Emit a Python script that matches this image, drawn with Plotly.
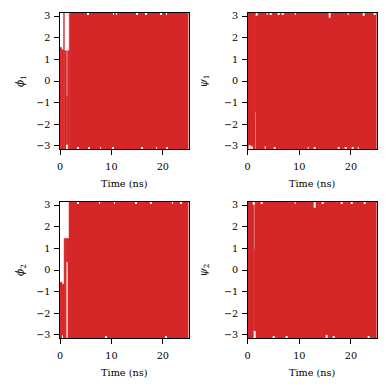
"""
Dihedral angle time series (phi/psi) for two residues, 2x2 grid
"""

import plotly.graph_objects as go
from plotly.subplots import make_subplots

RED = '#d62728'
FONT = 'DejaVu Serif'
PI = 3.1416

# Each panel: contiguous time segments (start, end in ns) with the
# min/max angle (rad) covered by the trajectory inside that segment.
phi1_start = [0.0, 0.3, 0.7, 0.85, 1.25, 1.45, 1.8]
phi1_end = [0.3, 0.7, 0.85, 1.25, 1.45, 1.8, 25.0]
phi1_lo = [-3.1416, -3.1416, -3.1416, -3.1416, -3.1416, -3.1416, -3.1416]
phi1_hi = [1.55, 1.45, 3.1416, 1.40, -0.70, 1.40, 3.1416]

psi1_start = [0.0, 1.45, 1.6]
psi1_end = [1.45, 1.6, 25.0]
psi1_lo = [-3.1416, -1.43, -3.1416]
psi1_hi = [3.1416, 3.1416, 3.1416]

phi2_start = [0.0, 0.4, 0.8, 1.2, 1.55, 1.75]
phi2_end = [0.4, 0.8, 1.2, 1.55, 1.75, 25.0]
phi2_lo = [-3.1416, -3.1416, -3.1416, 0.38, -3.1416, -3.1416]
phi2_hi = [-0.57, -0.66, 1.46, 1.46, 1.46, 3.1416]

psi2_start = [0.0, 1.2, 1.35]
psi2_end = [1.2, 1.35, 25.0]
psi2_lo = [-3.1416, -3.1416, -3.1416]
psi2_hi = [3.1416, 0.97, 3.1416]

# Sparse spots near +/-pi that the trajectory never visited (time, lo, hi)
phi1_gap_t = [5.5, 10.4, 11.0, 15.0, 16.7, 19.7, 20.7, 1.3, 3.5, 5.6, 7.9, 10.3, 16.0, 18.8, 20.8]
phi1_gap_lo = [3.07, 3.07, 3.07, 3.07, 3.07, 3.07, 3.07, -3.1416, -3.1416, -3.1416, -3.1416, -3.1416, -3.1416, -3.1416, -3.1416]
phi1_gap_hi = [3.1416, 3.1416, 3.1416, 3.1416, 3.1416, 3.1416, 3.1416, -2.95, -3.07, -3.07, -3.07, -3.07, -3.07, -3.07, -3.07]

psi1_gap_t = [1.7, 3.8, 4.5, 6.0, 6.8, 9.2, 15.9, 19.5, 22.5, 24.6, 0.4, 0.8, 3.4, 5.3, 11.7, 13.0, 17.6, 19.0, 20.3, 21.4]
psi1_gap_lo = [3.02, 3.07, 3.07, 3.07, 3.07, 3.07, 2.92, 3.07, 3.0, 3.07, -3.1416, -3.1416, -3.1416, -3.1416, -3.1416, -3.1416, -3.1416, -3.1416, -3.1416, -3.1416]
psi1_gap_hi = [3.1416, 3.1416, 3.1416, 3.1416, 3.1416, 3.1416, 3.1416, 3.1416, 3.1416, 3.1416, -2.97, -3.02, -3.02, -3.07, -3.07, -3.07, -3.07, -3.07, -3.07, -3.07]

phi2_gap_t = [3.5, 7.7, 10.6, 14.8, 17.7, 21.9, 23.5, 0.5, 9.0, 20.6]
phi2_gap_lo = [3.07, 3.07, 3.07, 3.07, 3.07, 3.07, 3.07, -3.1416, -3.1416, -3.1416]
phi2_gap_hi = [3.1416, 3.1416, 3.1416, 3.1416, 3.1416, 3.1416, 3.1416, -3.02, -3.07, -3.07]

psi2_gap_t = [1.1, 2.7, 9.2, 13.0, 14.6, 18.2, 20.1, 22.7, 1.3, 5.0, 7.5, 15.3, 16.6, 23.4]
psi2_gap_lo = [3.02, 3.07, 3.07, 2.88, 3.07, 3.07, 3.07, 3.07, -3.1416, -3.1416, -3.1416, -3.1416, -3.1416, -3.1416]
psi2_gap_hi = [3.1416, 3.1416, 3.1416, 3.1416, 3.1416, 3.1416, 3.1416, 3.1416, -2.82, -3.07, -3.07, -3.0, -3.07, -3.07]

panels = [
    (1, 1, '<i>ϕ</i><sub>1</sub>', phi1_start, phi1_end, phi1_lo, phi1_hi,
     phi1_gap_t, phi1_gap_lo, phi1_gap_hi),
    (1, 2, '<i>ψ</i><sub>1</sub>', psi1_start, psi1_end, psi1_lo, psi1_hi,
     psi1_gap_t, psi1_gap_lo, psi1_gap_hi),
    (2, 1, '<i>ϕ</i><sub>2</sub>', phi2_start, phi2_end, phi2_lo, phi2_hi,
     phi2_gap_t, phi2_gap_lo, phi2_gap_hi),
    (2, 2, '<i>ψ</i><sub>2</sub>', psi2_start, psi2_end, psi2_lo, psi2_hi,
     psi2_gap_t, psi2_gap_lo, psi2_gap_hi),
]

fig = make_subplots(rows=2, cols=2)

for row, col, label, t0, t1, lo, hi, gt, glo, ghi in panels:
    fig.add_trace(
        go.Bar(x=[(a + b) / 2 for a, b in zip(t0, t1)],
               width=[b - a for a, b in zip(t0, t1)],
               base=lo, y=[h - l for h, l in zip(hi, lo)],
               marker=dict(color=RED, line=dict(color=RED, width=0.5)),
               showlegend=False, hoverinfo='skip'),
        row=row, col=col
    )
    fig.add_trace(
        go.Bar(x=gt, width=[0.14] * len(gt), base=glo,
               y=[h - l for h, l in zip(ghi, glo)],
               marker=dict(color='white', line=dict(width=0)),
               showlegend=False, hoverinfo='skip'),
        row=row, col=col
    )
    fig.update_yaxes(title_text=label, row=row, col=col)

axis_style = dict(
    showline=True, mirror=True, linecolor='black', linewidth=1.1,
    ticks='outside', ticklen=4.5, tickwidth=1, tickcolor='black',
    showgrid=False, zeroline=False, automargin=False,
    tickfont=dict(family=FONT, size=9.7, color='black'),
)

fig.update_xaxes(range=[0, 25], tickvals=[0, 10, 20], ticklabelstandoff=4,
                 title=dict(text='Time (ns)', standoff=9,
                            font=dict(family=FONT, size=9.7, color='black')),
                 **axis_style)
fig.update_yaxes(range=[-PI, PI], tickvals=[-3, -2, -1, 0, 1, 2, 3],
                 ticktext=['−3', '−2', '−1', '0', '1', '2', '3'],
                 ticklabelstandoff=2,
                 **axis_style)
fig.update_yaxes(title=dict(standoff=9, font=dict(family=FONT, size=10.5, color='black')), col=1)
fig.update_yaxes(title=dict(standoff=14, font=dict(family=FONT, size=10.5, color='black')), col=2)

# Axes placed to match the original pixel layout of a 390x390 canvas
fig.update_layout(
    xaxis=dict(domain=[60 / 390, 188.5 / 390]),
    xaxis2=dict(domain=[247.7 / 390, 376.7 / 390]),
    xaxis3=dict(domain=[60 / 390, 188.5 / 390]),
    xaxis4=dict(domain=[247.7 / 390, 376.7 / 390]),
    yaxis=dict(domain=[1 - 149 / 390, 1 - 13 / 390]),
    yaxis2=dict(domain=[1 - 149 / 390, 1 - 13 / 390]),
    yaxis3=dict(domain=[1 - 338 / 390, 1 - 202 / 390]),
    yaxis4=dict(domain=[1 - 338 / 390, 1 - 202 / 390]),
    width=390, height=390,
    margin=dict(l=0, r=0, t=0, b=0),
    barmode='overlay',
    plot_bgcolor='white', paper_bgcolor='white',
    font=dict(family=FONT, size=9.7, color='black'),
)

fig.write_html("out.html", config={'displayModeBar': False},
               post_script="document.body.style.margin='0';")
